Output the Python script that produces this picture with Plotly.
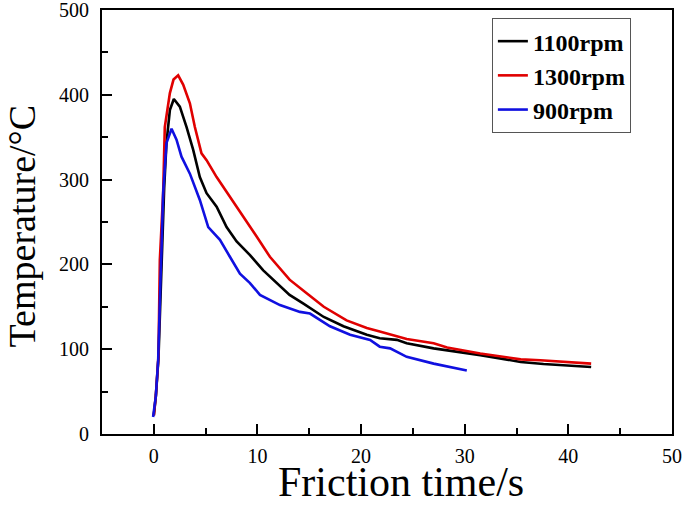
import plotly.graph_objects as go

# 1100 rpm (black)
x_1100 = [0.0, 0.2, 0.45, 0.6, 0.8, 1.0, 1.22, 1.55, 1.93, 2.51, 3.16, 3.8, 4.44, 5.09, 6.06, 7.02, 7.99,
          9.28, 10.56, 11.86, 13.1, 14.4, 16.4, 18.3, 20.55, 21.8, 23.45, 24.4, 27.0, 31.5, 34.7, 35.4,
          37.6, 40.2, 42.2]
y_1100 = [22, 45, 90, 150, 230, 290, 343, 382, 395, 386, 362, 335, 303, 284, 268, 244, 227,
          211, 193, 178, 164, 154, 138, 127, 117, 113, 111, 107, 101, 93, 86, 85,
          82.5, 81, 79]

# 1300 rpm (red)
x_1300 = [0.0, 0.2, 0.45, 0.58, 0.9, 1.06, 1.55, 1.9, 2.35, 2.83, 3.48, 3.96, 4.6, 5.09, 6.06, 7.34, 8.63,
          9.28, 9.92, 11.2, 13.1, 14.75, 16.4, 18.6, 20.55, 21.8, 23.4, 24.4, 27.0, 28.3, 31.5, 34.7,
          35.4, 37.3, 40.2, 42.2]
y_1300 = [22, 46, 92, 205, 284, 362, 402, 418, 423, 412, 390, 362, 331, 323, 303, 280, 256,
          244, 233, 209, 182, 166, 150, 134, 125, 121, 115, 112, 107, 102, 95, 89,
          88, 87, 85, 83]

# 900 rpm (blue)
x_900 = [-0.07, 0.19, 0.42, 0.51, 0.65, 0.74, 0.9, 1.22, 1.71, 2.19, 2.67, 3.48, 4.44, 5.25, 6.38, 7.34,
         8.31, 9.28, 10.24, 12.17, 14.1, 15.07, 17.0, 18.94, 20.87, 21.8, 22.8, 24.4, 27.0, 30.2]
y_900 = [20, 44, 87, 138, 185, 217, 284, 343, 360, 347, 327, 307, 276, 244, 229, 209,
         189, 178, 164, 152, 144, 142, 127, 117, 111, 103, 101, 91, 83, 75]

x_ticks = [0, 10, 20, 30, 40, 50]
y_ticks = [0, 100, 200, 300, 400, 500]

x_title = "Friction time/s"
y_title = "Temperature/°C"

serif = "Liberation Serif, Times New Roman, serif"

fig = go.Figure()
fig.add_trace(go.Scatter(x=x_1100, y=y_1100, mode="lines", name="1100rpm",
                         line=dict(color="#000000", width=2.6)))
fig.add_trace(go.Scatter(x=x_1300, y=y_1300, mode="lines", name="1300rpm",
                         line=dict(color="#e00000", width=2.6)))
fig.add_trace(go.Scatter(x=x_900, y=y_900, mode="lines", name="900rpm",
                         line=dict(color="#1010e0", width=2.6)))

axis_common = dict(
    showline=True, linecolor="black", linewidth=2, mirror=True,
    showgrid=False, zeroline=False, automargin=False,
    ticks="inside", ticklen=10, tickwidth=2, tickcolor="black",
    ticklabeloverflow="allow",
    tickfont=dict(family=serif, size=20, color="black"),
)

fig.update_xaxes(
    range=[-5, 50], tickvals=x_ticks, ticktext=[str(v) for v in x_ticks],
    minor=dict(ticks="inside", ticklen=6, tickwidth=2, tickcolor="black", dtick=5, tick0=0),
    ticklabelstandoff=3,
    **axis_common,
)
fig.update_yaxes(
    range=[0, 500], tickvals=y_ticks, ticktext=[str(v) for v in y_ticks],
    minor=dict(ticks="inside", ticklen=6, tickwidth=2, tickcolor="black", dtick=50, tick0=0),
    ticklabelstandoff=7,
    **axis_common,
)

# axis titles placed as paper-anchored annotations
fig.add_annotation(text=x_title, xref="paper", yref="paper", x=0.5246, y=-0.113,
                   xanchor="center", yanchor="middle", showarrow=False,
                   font=dict(family=serif, size=42, color="black"))
fig.add_annotation(text=y_title, xref="paper", yref="paper", x=-0.14, y=0.49,
                   xanchor="center", yanchor="middle", showarrow=False, textangle=-90,
                   font=dict(family=serif, size=38, color="black"))

fig.update_layout(
    width=685, height=505,
    margin=dict(l=102, r=13, t=10, b=71),
    paper_bgcolor="white", plot_bgcolor="white",
    showlegend=True,
    legend=dict(
        x=0.684, y=0.981, xanchor="left", yanchor="top",
        bgcolor="white", bordercolor="#555555", borderwidth=1,
        font=dict(family=serif, size=24, color="black", weight="bold"),
    ),
)

fig.write_html("out.html", config={"displayModeBar": False})

# remove the default page margin so the figure sits at the window's top-left corner
with open("out.html", "r", encoding="utf-8") as f:
    html = f.read()
html = html.replace("<head>", "<head><style>html,body{margin:0;padding:0;overflow:hidden;}</style>", 1)
with open("out.html", "w", encoding="utf-8") as f:
    f.write(html)
